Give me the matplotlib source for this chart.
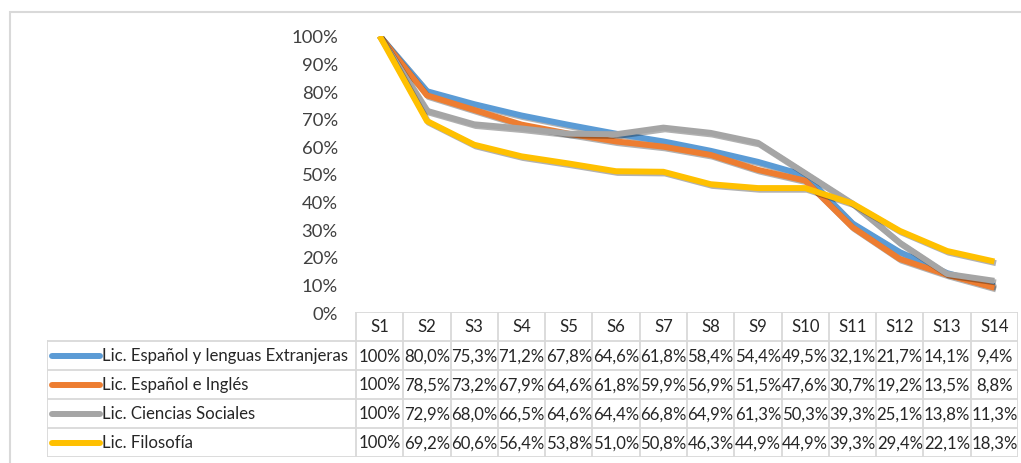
import numpy as np
import matplotlib
matplotlib.use('Agg')
import matplotlib.pyplot as plt
import matplotlib.patheffects as pe

sessions = ['S1', 'S2', 'S3', 'S4', 'S5', 'S6', 'S7', 'S8', 'S9', 'S10', 'S11', 'S12', 'S13', 'S14']
names = ['Lic. Español y lenguas Extranjeras', 'Lic. Español e Inglés',
         'Lic. Ciencias Sociales', 'Lic. Filosofía']
esp_ext = [100, 80.0, 75.3, 71.2, 67.8, 64.6, 61.8, 58.4, 54.4, 49.5, 32.1, 21.7, 14.1, 9.4]
esp_ing = [100, 78.5, 73.2, 67.9, 64.6, 61.8, 59.9, 56.9, 51.5, 47.6, 30.7, 19.2, 13.5, 8.8]
ciencias = [100, 72.9, 68.0, 66.5, 64.6, 64.4, 66.8, 64.9, 61.3, 50.3, 39.3, 25.1, 13.8, 11.3]
filosofia = [100, 69.2, 60.6, 56.4, 53.8, 51.0, 50.8, 46.3, 44.9, 44.9, 39.3, 29.4, 22.1, 18.3]
series = [esp_ext, esp_ing, ciencias, filosofia]
colors = ['#5B9BD5', '#ED7D31', '#A5A5A5', '#FFC000']

plt.rcParams['font.family'] = ['Lato', 'DejaVu Sans']

W, H = 1021, 464
fig = plt.figure(figsize=(W / 100, H / 100), dpi=100)

# outer chart border (left/top visible, rest cut off)
fig.add_artist(plt.Rectangle((10 / W, -0.1), 1.2, (H - 13) / H + 0.1, transform=fig.transFigure,
                             fill=False, edgecolor='#d9d9d9', linewidth=1.5))

# plot area
x0, x1 = 356, 1018
y_top, y_zero = 37, 313
ax = fig.add_axes([x0 / W, (H - y_zero) / H, (x1 - x0) / W, (y_zero - y_top) / H])
x = np.arange(len(sessions))
for vals, c in zip(series, colors):
    ax.plot(x, np.array(vals) / 100, color=c, linewidth=4.3, solid_joinstyle='round',
            solid_capstyle='butt',
            path_effects=[pe.SimpleLineShadow(offset=(1.2, -1.2), shadow_color='black', alpha=0.3),
                          pe.Normal()])
ax.set_xlim(-0.5, len(sessions) - 0.5)
ax.set_ylim(0, 1)
ax.set_yticks(np.arange(0, 1.01, 0.1))
ax.set_yticklabels(['%d%%' % v for v in range(0, 101, 10)], fontsize=13.3, color='#404040')
ax.tick_params(axis='y', length=0, pad=13)
ax.set_xticks([])
for s in ax.spines.values():
    s.set_visible(False)
ax.patch.set_alpha(0)

# data table
tl, tb = 47, 458
colw = (x1 - x0) / len(sessions)
label_w = (x0 - tl) / colw
ax_t = fig.add_axes([tl / W, (H - tb) / H, (x1 - tl) / W, (tb - y_zero) / H])
ax_t.set_xlim(-0.5 - label_w, len(sessions) - 0.5)
ax_t.set_ylim(5, 0)
ax_t.axis('off')
grid = dict(color='#d9d9d9', linewidth=1.3)
left = -0.5 - label_w
right = len(sessions) - 0.5
for k in range(len(sessions) + 1):
    ax_t.plot([k - 0.5, k - 0.5], [0, 5], **grid)
ax_t.plot([left, left], [1, 5], **grid)
ax_t.plot([-0.5, right], [0, 0], **grid)
for r in range(1, 6):
    ax_t.plot([left, right], [r, r], **grid)

txt = dict(fontsize=12.1, color='#262626', va='center')
for i, s in enumerate(sessions):
    ax_t.text(i, 0.5, s, ha='center', **txt)


def fmt(v):
    return '100%' if v == 100 else ('%.1f%%' % v).replace('.', ',')


key_a = -0.5 + (52 - x0) / colw
key_b = -0.5 + (100 - x0) / colw
for r, (name, vals, c) in enumerate(zip(names, series, colors)):
    y = r + 1.5
    ax_t.plot([key_a, key_b], [y, y], color=c, linewidth=4.3, solid_capstyle='round')
    ax_t.text(key_b + 0.04, y, name, ha='left', **txt)
    for i, v in enumerate(vals):
        ax_t.text(i, y, fmt(v), ha='center', **txt)

fig.savefig('out.png', dpi=100)
